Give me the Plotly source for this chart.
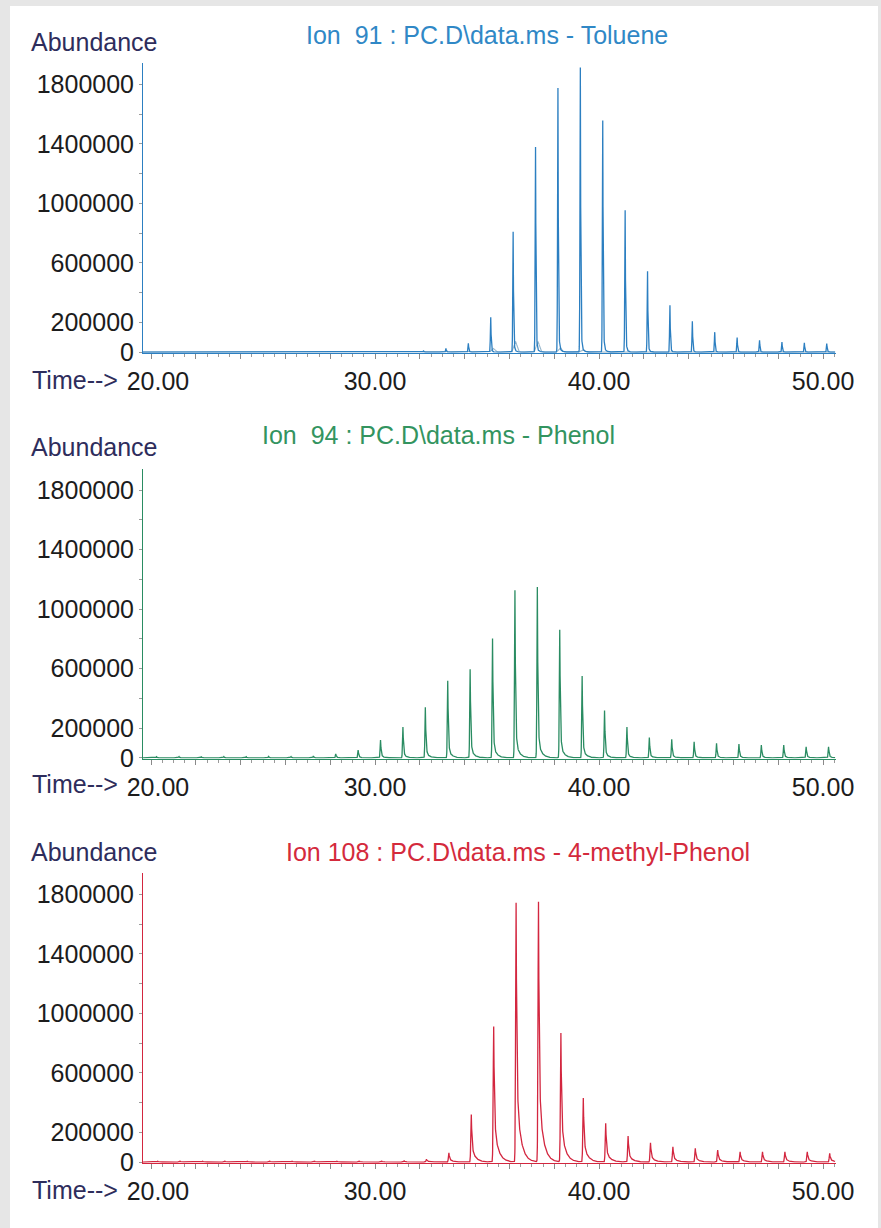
import numpy as np
import plotly.graph_objects as go

# ---------------------------------------------------------------------------
# Extracted-ion chromatograms (abundance vs. retention time, min)
# Each ion shows a train of pulses one minute apart; heights are apex counts.
# ---------------------------------------------------------------------------

# Ion 91 - Toluene
toluene_times = [20.17, 21.17, 22.17, 23.17, 24.17, 25.17, 26.17, 27.17, 28.17,
                 29.17, 30.17, 31.17, 32.17, 33.17, 34.17, 35.17, 36.17, 37.17,
                 38.17, 39.17, 40.17, 41.17, 42.17, 43.17, 44.17, 45.17, 46.17,
                 47.17, 48.17, 49.17, 50.17]
toluene_heights = [3000, 3000, 3000, 3000, 3000, 3000, 3000, 3000, 4000,
                   4000, 4000, 5000, 8000, 25000, 60000, 237000, 820000, 1398000,
                   1800000, 1940000, 1578000, 966000, 551000, 320000, 210000, 136000, 99000,
                   81000, 69000, 63000, 58000]
# Second, broader co-eluting component seen under the toluene pulses
toluene_hump_times = [35.27, 36.27, 37.27, 38.27, 39.27]
toluene_hump_heights = [25000, 70000, 70000, 30000, 14000]

# Ion 94 - Phenol
phenol_times = [20.25, 21.25, 22.25, 23.25, 24.25, 25.25, 26.25, 27.25, 28.25,
                29.25, 30.25, 31.25, 32.25, 33.25, 34.25, 35.25, 36.25, 37.25,
                38.25, 39.25, 40.25, 41.25, 42.25, 43.25, 44.25, 45.25, 46.25,
                47.25, 48.25, 49.25, 50.25]
phenol_heights = [8000, 9000, 7000, 9000, 8000, 10000, 9000, 12000, 28000,
                  54000, 121000, 210000, 345000, 524000, 602000, 811000, 1140000, 1162000,
                  871000, 557000, 322000, 210000, 139000, 126000, 109000, 99000, 94000,
                  87000, 87000, 76000, 76000]

# Ion 108 - 4-methyl-Phenol
methylphenol_times = [20.30, 21.30, 22.30, 23.30, 24.30, 25.30, 26.30, 27.30, 28.30,
                      29.30, 30.30, 31.30, 32.30, 33.30, 34.30, 35.30, 36.30, 37.30,
                      38.30, 39.30, 40.30, 41.30, 42.30, 43.30, 44.30, 45.30, 46.30,
                      47.30, 48.30, 49.30, 50.30]
methylphenol_heights = [6000, 7000, 6000, 7000, 6000, 7000, 6000, 7000, 6000,
                        7000, 7000, 8000, 20000, 62000, 320000, 912000, 1744000, 1750000,
                        866000, 430000, 261000, 175000, 130000, 103000, 92000, 81000, 69000,
                        69000, 69000, 69000, 59000]

# Axis tick labels (the first one is nudged right, clear of "Time-->")
x_tick_values = [20, 30, 40, 50]
x_tick_labels = ["&nbsp;&nbsp;20.00", "30.00", "40.00", "50.00"]
y_tick_values = [0, 200000, 600000, 1000000, 1400000, 1800000]
y_tick_labels = ["0", "200000", "600000", "1000000", "1400000", "1800000"]

panel_titles = ["Ion  91 : PC.D\\data.ms - Toluene",
                "Ion  94 : PC.D\\data.ms - Phenol",
                "Ion 108 : PC.D\\data.ms - 4-methyl-Phenol"]
panel_colors = ["#2c7fc1", "#2a8c62", "#d3263f"]
title_colors = ["#3088c6", "#33945f", "#d42a3c"]

# ---------------------------------------------------------------------------
T_START, T_END = 19.643, 50.54
t = np.arange(T_START, T_END, 0.004)


def pulse_train(times, heights, rise, fast, slow, slow_frac):
    """Sum of sharp pulses with a short front and an exponential tail."""
    y = np.zeros_like(t)
    for t0, h in zip(times, heights):
        d = t - t0
        front = np.exp(-0.5 * (d / rise) ** 2)
        dd = np.clip(d, 0, None)
        back = (1 - slow_frac) * np.exp(-dd / fast) + slow_frac * np.exp(-dd / slow)
        y += h * np.where(d < 0, front, back)
    return y


def hump_train(times, heights, width):
    y = np.zeros_like(t)
    for t0, h in zip(times, heights):
        y += h * np.exp(-0.5 * ((t - t0) / width) ** 2)
    return y


series = [
    pulse_train(toluene_times, toluene_heights, 0.018, 0.018, 0.08, 0.04),
    pulse_train(phenol_times, phenol_heights, 0.02, 0.025, 0.15, 0.12),
    pulse_train(methylphenol_times, methylphenol_heights, 0.022, 0.03, 0.18, 0.3),
]
toluene_hump = hump_train(toluene_hump_times, toluene_hump_heights, 0.07)

# ---------------------------------------------------------------------------
W, H = 881, 1228
panel_px = [(62.7, 352.7), (468.5, 758.5), (872.7, 1162.7)]  # top, bottom (px)
x_dom = [143 / W, 836 / W]
title_pos = [(304, 35), (260, 435), (284, 852)]
abund_pos = [41.7, 446.7, 851.7]
time_pos = [380, 784, 1190]

fig = go.Figure()
text_font = "Liberation Sans, Arial, sans-serif"
label_color = "#2e2d5c"

all_y_ticks = list(range(0, 1800001, 200000))
all_y_text = [y_tick_labels[y_tick_values.index(v)] if v in y_tick_values else ""
              for v in all_y_ticks]
all_x_ticks = list(range(20, 51, 2))
all_x_text = [x_tick_labels[x_tick_values.index(v)] if v in x_tick_values else ""
              for v in all_x_ticks]

for i in range(3):
    ax = "" if i == 0 else str(i + 1)
    top_px, bot_px = panel_px[i]
    col = panel_colors[i]
    if i == 0:
        fig.add_trace(go.Scatter(x=t, y=toluene_hump, mode="lines",
                                 line=dict(color="#9ab8cc", width=1.1),
                                 xaxis="x" + ax, yaxis="y" + ax,
                                 hoverinfo="skip", showlegend=False))
    fig.add_trace(go.Scatter(x=t, y=series[i], mode="lines",
                             line=dict(color=col, width=1.3),
                             xaxis="x" + ax, yaxis="y" + ax,
                             name=panel_titles[i], showlegend=False))

    fig.layout["xaxis" + ax] = dict(
        domain=x_dom, anchor="y" + ax, range=[T_START, 50.58], automargin=False,
        showgrid=False, zeroline=False, showline=True, linecolor=col, linewidth=1,
        tickmode="array", tickvals=all_x_ticks, ticktext=all_x_text,
        ticks="outside", ticklen=5, tickwidth=1, tickcolor="#8a8a8a",
        minor=dict(tickmode="linear", tick0=20, dtick=0.5, ticks="outside",
                   ticklen=3, tickwidth=1, tickcolor="#9a9a9a", showgrid=False),
        tickfont=dict(family=text_font, size=25, color="#1c1c1c"),
        ticklabelstandoff=1,
    )
    fig.layout["yaxis" + ax] = dict(
        domain=[1 - bot_px / H, 1 - top_px / H], anchor="x" + ax, automargin=False,
        range=[-4000, 1945000],
        showgrid=False, zeroline=False, showline=True, linecolor=col, linewidth=1,
        tickmode="array", tickvals=all_y_ticks, ticktext=all_y_text,
        ticks="outside", ticklen=3, tickwidth=1, tickcolor="#9a9a9a",
        tickfont=dict(family=text_font, size=25, color="#1c1c1c"),
        ticklabelstandoff=0,
    )

    tx, ty = title_pos[i]
    fig.add_annotation(x=tx / W, y=1 - ty / H, xref="paper", yref="paper",
                       xanchor="left", yanchor="middle", showarrow=False,
                       text=panel_titles[i].replace("  ", "&nbsp; "),
                       font=dict(family=text_font, size=25, color=title_colors[i]))
    fig.add_annotation(x=29 / W, y=1 - abund_pos[i] / H, xref="paper", yref="paper",
                       xanchor="left", yanchor="middle", showarrow=False,
                       text="Abundance",
                       font=dict(family=text_font, size=25, color=label_color))
    fig.add_annotation(x=30 / W, y=1 - time_pos[i] / H, xref="paper", yref="paper",
                       xanchor="left", yanchor="middle", showarrow=False,
                       text="Time-->",
                       font=dict(family=text_font, size=25, color=label_color))

fig.update_layout(
    width=W, height=H,
    margin=dict(l=0, r=0, t=0, b=0, autoexpand=False),
    paper_bgcolor="#e6e6e6",
    plot_bgcolor="white",
    showlegend=False,
    shapes=[dict(type="rect", xref="paper", yref="paper", layer="below",
                 x0=10 / W, x1=878 / W, y0=0, y1=1 - 6 / H,
                 fillcolor="white", line=dict(width=0))],
)

fig.write_html("out.html")
